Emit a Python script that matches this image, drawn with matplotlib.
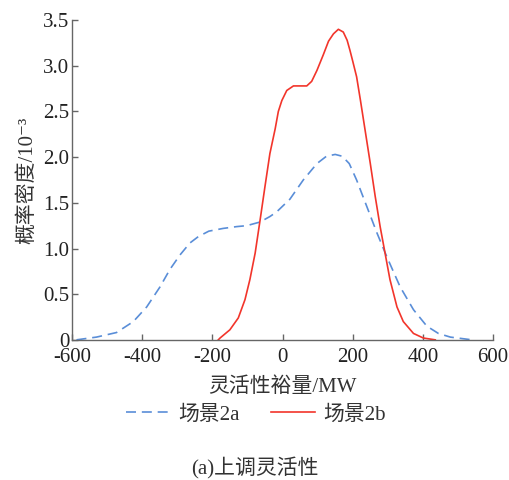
import matplotlib
matplotlib.use("Agg")
import matplotlib.pyplot as plt

plt.rcParams['font.family'] = ['Liberation Serif', 'Noto Sans CJK SC', 'DejaVu Sans']
plt.rcParams['axes.unicode_minus'] = False

# Scenario 2a (blue dashed)
x_2a = [-587, -530, -473, -425, -387, -349, -321, -292, -264, -240, -210, -169, -130, -102,
        -64, -36, -17, 21, 59, 98, 125, 150, 170, 190, 211, 240, 269, 297, 335, 373, 411,
        444, 478, 540]
y_2a = [0.00, 0.03, 0.08, 0.20, 0.36, 0.58, 0.77, 0.93, 1.06, 1.13, 1.19, 1.22, 1.24, 1.25,
        1.29, 1.35, 1.40, 1.54, 1.75, 1.93, 2.01, 2.03, 2.01, 1.93, 1.75, 1.46, 1.17, 0.91,
        0.58, 0.33, 0.15, 0.07, 0.03, 0.00]

# Scenario 2b (red solid)
x_2b = [-183, -178, -150, -126, -107, -93, -78, -64, -50, -36, -21, -12, -2, 12, 31, 50, 69,
        83, 98, 116, 131, 145, 159, 173, 184, 192, 200, 211, 222, 235, 250, 264, 278, 292,
        306, 326, 344, 373, 401, 435]
y_2b = [0.00, 0.02, 0.11, 0.24, 0.44, 0.66, 0.95, 1.31, 1.68, 2.04, 2.31, 2.50, 2.62, 2.73,
        2.78, 2.78, 2.78, 2.83, 2.95, 3.12, 3.27, 3.35, 3.40, 3.37, 3.28, 3.17, 3.05, 2.88,
        2.62, 2.30, 1.93, 1.57, 1.24, 0.95, 0.66, 0.36, 0.20, 0.07, 0.02, 0.00]

x_ticks = [-600, -400, -200, 0, 200, 400, 600]
y_ticks = [0, 0.5, 1.0, 1.5, 2.0, 2.5, 3.0, 3.5]
y_tick_labels = ['0', '0.5', '1.0', '1.5', '2.0', '2.5', '3.0', '3.5']

fig = plt.figure(figsize=(5.1, 4.8), dpi=100)
ax = fig.add_axes([0.141, 0.292, 0.826, 0.666])

ax.plot(x_2a, y_2a, color='#5A8ED8', linestyle=(0, (6, 3.5)), linewidth=1.2, label='场景2a')
ax.plot(x_2b, y_2b, color='#F2352B', linestyle='-', linewidth=1.2, label='场景2b')

ax.set_xlim(-600, 600)
ax.set_ylim(0, 3.5)
ax.set_xticks(x_ticks)
ax.set_xticklabels([str(v) for v in x_ticks])
ax.set_yticks(y_ticks)
ax.set_yticklabels(y_tick_labels)

for s in ['top', 'right']:
    ax.spines[s].set_visible(False)
for s in ['left', 'bottom']:
    ax.spines[s].set_color('#666666')
    ax.spines[s].set_linewidth(1.0)

ax.tick_params(direction='in', length=4, width=1.0, color='#666666',
               labelsize=15, labelcolor='#222222', pad=2)
ax.tick_params(axis='x', pad=6)

ax.set_xlabel('灵活性裕量/MW', fontsize=15, color='#333333', labelpad=7)
ax.set_ylabel('概率密度/10⁻³', fontsize=15, color='#333333', labelpad=4)

leg = ax.legend(loc='upper center', bbox_to_anchor=(0.437, -0.145), ncol=2, frameon=False,
                fontsize=15, handlelength=2.1, columnspacing=1.5, handletextpad=0.4,
                labelcolor='#333333')

fig.text(0.5, 0.023, '(a)上调灵活性', ha='center', va='center', fontsize=15, color='#333333')

fig.savefig('out.png', dpi=100)
